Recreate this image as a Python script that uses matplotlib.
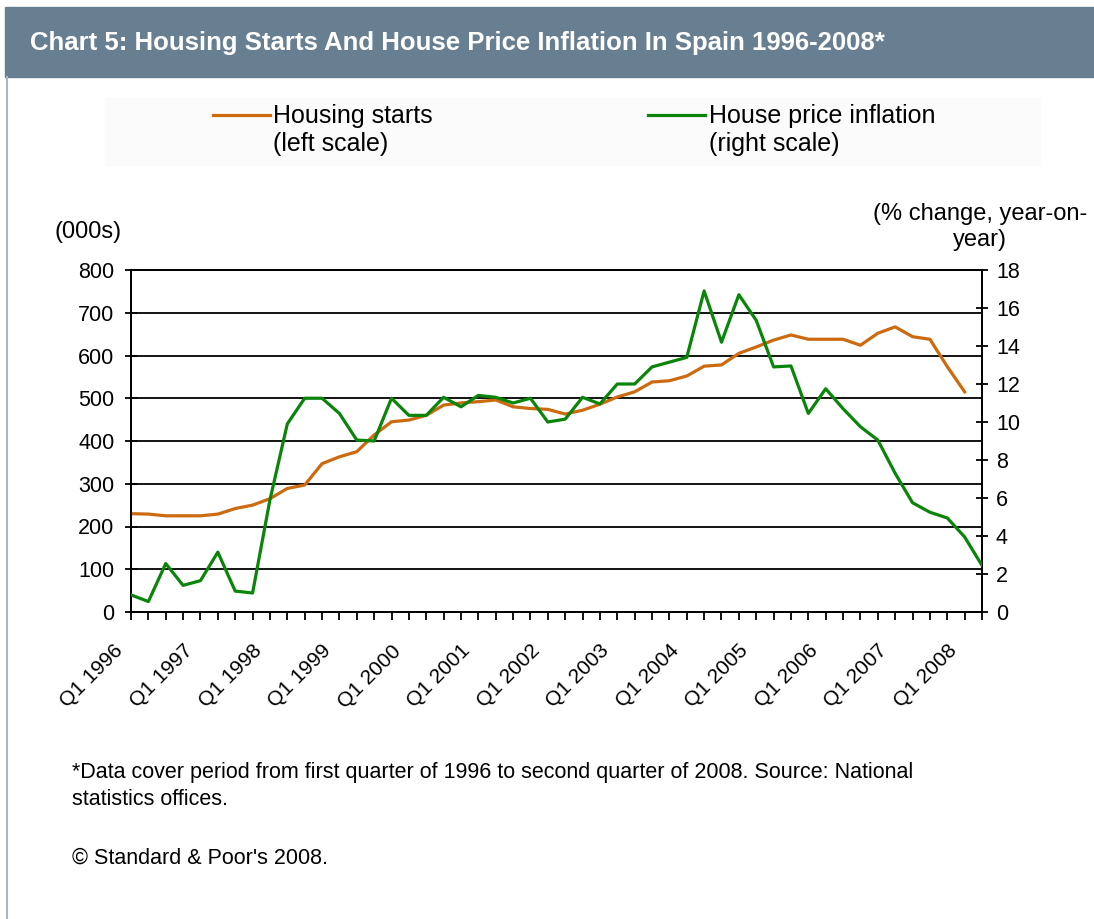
import numpy as np
import matplotlib
matplotlib.use("Agg")
import matplotlib.pyplot as plt
from matplotlib.transforms import ScaledTranslation
from matplotlib.patches import Rectangle

plt.rcParams['font.family'] = ['Liberation Sans', 'DejaVu Sans']

# quarterly data, Q1 1996 - Q2 2008
years = list(range(1996, 2009))
quarters = [f"Q{q} {y}" for y in years for q in range(1, 5)][:50]

# housing starts (000s), left scale, up to Q1 2008
housing_starts = [230, 229, 225, 225, 225, 229, 242, 250, 265, 289,
                  297, 347, 363, 375, 414, 445, 449, 460, 484, 489,
                  492, 496, 480, 476, 474, 463, 472, 486, 503, 515,
                  538, 541, 552, 575, 578, 605, 620, 636, 648, 638,
                  638, 638, 624, 652, 667, 644, 638, 574, 515]

# house price inflation (% y/y), right scale, up to Q2 2008
price_inflation = [0.9, 0.55, 2.55, 1.4, 1.65, 3.15, 1.1, 1.0, 5.9, 9.9,
                   11.25, 11.25, 10.45, 9.05, 9.0, 11.25, 10.35, 10.35, 11.3, 10.8,
                   11.4, 11.3, 11.0, 11.25, 10.0, 10.15, 11.3, 10.95, 12.0, 12.0,
                   12.9, 13.15, 13.4, 16.9, 14.2, 16.7, 15.35, 12.9, 12.95, 10.45,
                   11.75, 10.7, 9.75, 9.05, 7.3, 5.75, 5.25, 4.95, 3.95, 2.45]

orange = '#cc6a10'
green = '#0a850a'

fig = plt.figure(figsize=(10.94, 9.19), dpi=100)

# header band and frame
fig.patches.append(Rectangle((5/1094, 1-77/919), 1, 70/919, transform=fig.transFigure,
                             color='#687f92', zorder=0))
fig.add_artist(plt.Line2D([7/1094, 7/1094], [0, 1-77/919], color='#a9b8c4', lw=1.5))
fig.text(30/1094, 1-43/919, "Chart 5: Housing Starts And House Price Inflation In Spain 1996-2008*",
         color='white', fontsize=18.5, fontweight='bold', va='center', ha='left')

ax = fig.add_axes([131/1094, 1-612/919, 851/1094, 342/919])
ax2 = ax.twinx()

x1 = np.arange(len(housing_starts))
x2 = np.arange(len(price_inflation))
ax.plot(x1, housing_starts, color=orange, lw=2.3, zorder=3)
ax2.plot(x2, price_inflation, color=green, lw=2.3, zorder=3)

ax.set_xlim(0, 49)
ax.set_ylim(0, 800)
ax2.set_ylim(0, 18)
ax.set_yticks(range(0, 801, 100))
ax2.set_yticks(range(0, 19, 2))

ax.set_xticks(x2)
ax.set_xticklabels([])
off = ScaledTranslation(-11/100, -36/100, fig.dpi_scale_trans)
for i, q in enumerate(quarters):
    if i % 4 == 0:
        ax.text(i, 0, q, transform=ax.get_xaxis_transform() + off, fontsize=15,
                rotation=45, rotation_mode='anchor', ha='right', va='center')

ax.yaxis.grid(True, color='black', lw=1.3)
ax.set_axisbelow(True)
for a in (ax, ax2):
    for s in a.spines.values():
        s.set_color('black')
        s.set_linewidth(1.3)
ax.tick_params(axis='y', direction='inout', length=8, width=1.3, pad=8, labelsize=15.5)
ax2.tick_params(axis='y', direction='inout', length=8, width=1.3, pad=6, labelsize=15.5)
ax.tick_params(axis='x', direction='out', length=6, width=1.3)

fig.text(55/1094, 1-232/919, "(000s)", fontsize=17, ha='left', va='center')
fig.text(980/1094, 1-227/919, "(% change, year-on-\nyear)", fontsize=17,
         ha='center', va='center', multialignment='center', linespacing=1.25)

# legend
fig.patches.append(Rectangle((105/1094, 1-165/919), 935/1094, 67/919, transform=fig.transFigure,
                             color='#fbfbfb', zorder=0))
fig.add_artist(plt.Line2D([213/1094, 270/1094], [1-115/919]*2, color=orange, lw=2.3))
fig.add_artist(plt.Line2D([648/1094, 705/1094], [1-115/919]*2, color=green, lw=2.3))
fig.text(273/1094, 1-130/919, "Housing starts\n(left scale)", fontsize=18,
         ha='left', va='center', linespacing=1.2)
fig.text(709/1094, 1-130/919, "House price inflation\n(right scale)", fontsize=18,
         ha='left', va='center', linespacing=1.2)

# footnotes
fig.text(72/1094, 1-786/919,
         "*Data cover period from first quarter of 1996 to second quarter of 2008. Source: National\nstatistics offices.",
         fontsize=15.5, ha='left', va='center', linespacing=1.36)
fig.text(72/1094, 1-858/919, "\u00a9 Standard & Poor's 2008.", fontsize=15.5, ha='left', va='center')

fig.savefig('out.png', dpi=100)
